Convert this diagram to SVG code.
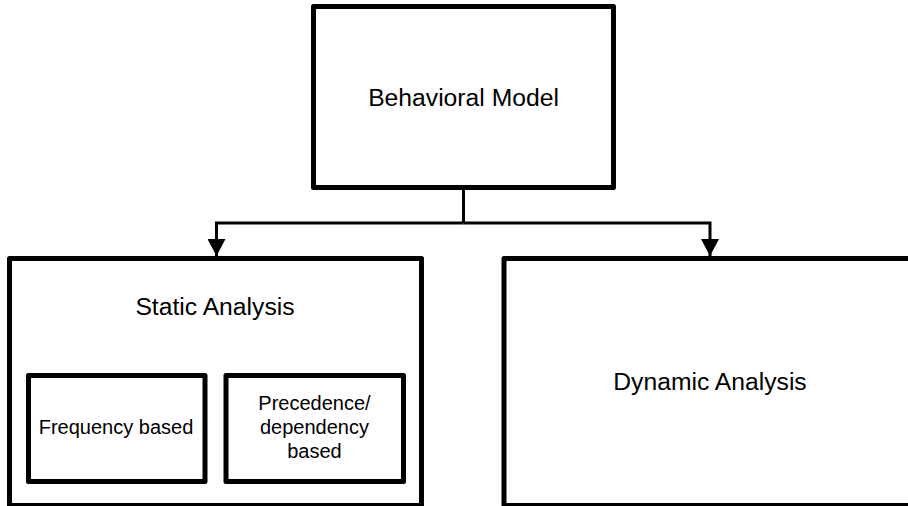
<svg xmlns="http://www.w3.org/2000/svg" width="908" height="506" viewBox="0 0 908 506">
<style>
.box{fill:#fff;stroke:#000;stroke-width:5;stroke-linejoin:round}
.lbl{font-family:"Liberation Sans",Arial,sans-serif;fill:#000;text-anchor:middle}
.big{font-size:24.7px}
.small{font-size:20px}
.conn{fill:none;stroke:#000;stroke-width:3}
</style>
<defs>
<marker id="arrow" markerUnits="userSpaceOnUse" markerWidth="17" markerHeight="18" refX="17" refY="9" orient="auto" viewBox="0 0 17 18">
<path d="M0,0 L17,9 L0,18 Z" fill="#000"/>
</marker>
</defs>
<rect width="908" height="506" fill="#fff"/>
<g id="behavioral-model">
<rect class="box" x="313.5" y="6.5" width="300" height="181"/>
<text class="lbl big" x="463.5" y="106">Behavioral Model</text>
</g>
<g id="static-analysis">
<rect class="box" x="9.5" y="258.5" width="412" height="247"/>
<text class="lbl big" x="215" y="315">Static Analysis</text>
</g>
<g id="frequency-based">
<rect class="box" x="28.5" y="375.5" width="176.5" height="106"/>
<text class="lbl small" x="116" y="434">Frequency based</text>
</g>
<g id="precedence-based">
<rect class="box" x="226" y="375.5" width="177.5" height="106"/>
<text class="lbl small" x="314.5" y="410">Precedence/</text>
<text class="lbl small" x="314.5" y="434">dependency</text>
<text class="lbl small" x="314.5" y="457.5">based</text>
</g>
<g id="dynamic-analysis">
<rect class="box" x="504" y="258.5" width="412" height="247"/>
<text class="lbl big" x="710" y="389.5">Dynamic Analysis</text>
</g>
<g id="connectors">
<path class="conn" d="M463.5,190 V223"/>
<path class="conn" d="M463.5,223 H216.5 V256" marker-end="url(#arrow)"/>
<path class="conn" d="M463.5,223 H710 V256" marker-end="url(#arrow)"/>
</g>
</svg>
